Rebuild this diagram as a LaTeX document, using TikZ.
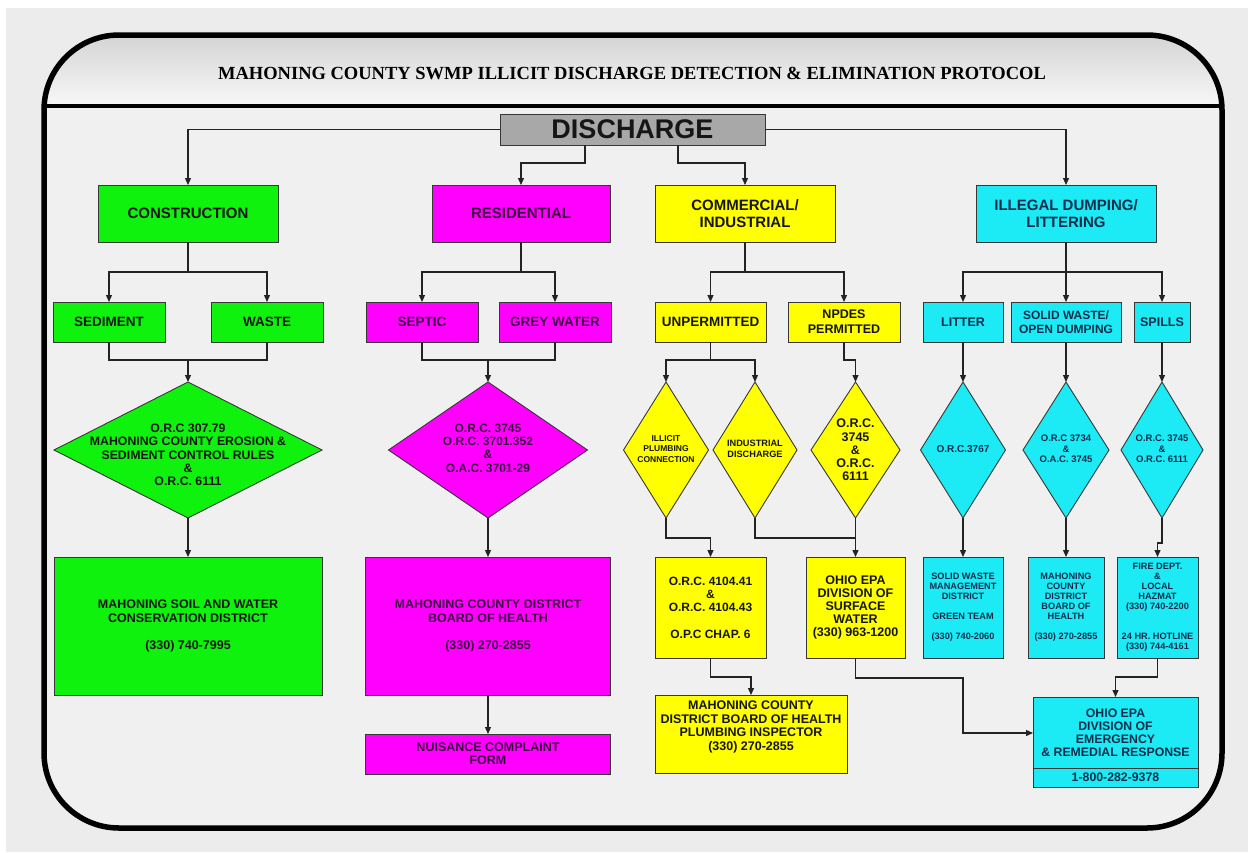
\documentclass[tikz,border=0pt]{standalone}
\usepackage{fontspec}
\setmainfont{Liberation Sans}
\newfontfamily\ttlfont{Liberation Serif}
\usetikzlibrary{arrows.meta,shapes.geometric}
\definecolor{grn}{RGB}{14,242,14}
\definecolor{mag}{RGB}{255,0,255}
\definecolor{yel}{RGB}{255,255,0}
\definecolor{cya}{RGB}{28,234,244}
\definecolor{gry}{RGB}{168,168,168}
\definecolor{bgc}{RGB}{236,236,236}
\definecolor{pnl}{RGB}{240,240,240}
\definecolor{edge}{RGB}{55,55,55}
\definecolor{linec}{RGB}{35,35,35}
\definecolor{txk}{RGB}{22,22,22}
\definecolor{txm}{RGB}{60,8,66}
\definecolor{txc}{RGB}{16,46,76}
\newcommand\myfz[2]{\fontsize{#1}{#2}\selectfont}
\tikzset{
  shp/.style={draw=edge, line width=0.9pt, inner sep=0pt, outer sep=0pt, align=center},
  fs/.style 2 args={font=\bfseries\myfz{#1}{#2}},
  gbox/.style={shp, fill=grn, text=txk},
  mbox/.style={shp, fill=mag, text=txm},
  ybox/.style={shp, fill=yel, text=txk},
  cbox/.style={shp, fill=cya, text=txc},
  dia/.style={shape=diamond, aspect=1, draw=edge, line width=0.9pt, inner sep=0pt, outer sep=0pt},
  txt/.style={align=center, inner sep=0pt},
  ln/.style={draw=linec, line width=1.2pt},
  arr/.style={ln, -{Triangle[length=7pt,width=6pt]}},
}
\begin{document}
\begin{tikzpicture}[x=1pt,y=-1pt]
\useasboundingbox (0,0) rectangle (1248,852);
% background and frame
\fill[white] (0,0) rectangle (1248,852);
\fill[bgc] (6,8) rectangle (1248,852);
\fill[pnl, rounded corners=75pt] (44,35) rectangle (1222,828);
\begin{scope}
  \clip[rounded corners=75pt] (44,35) rectangle (1222,828);
  \shade[top color={rgb,255:red,212;green,212;blue,212}, bottom color={rgb,255:red,248;green,248;blue,248}] (44,35) rectangle (1222,106);
\end{scope}
\draw[line width=4pt] (44,106) -- (1222,106);
\draw[line width=5.5pt, rounded corners=75pt] (44,35) rectangle (1222,828);

\node[txt, font=\ttlfont\bfseries\myfz{18.5}{22}, text=black] (ttl) at (632,73)
  {MAHONING COUNTY SWMP ILLICIT DISCHARGE DETECTION \& ELIMINATION PROTOCOL};

% top
\node[shp, fill=gry, text=txk, fs={27}{30}, minimum width=265pt, minimum height=31pt] (dis) at (632.5,129.5) {DISCHARGE};

% row 1
\node[gbox, fs={15}{17}, minimum width=180pt, minimum height=57pt] (con) at (188,213.5) {CONSTRUCTION};
\node[mbox, fs={15}{17}, minimum width=178pt, minimum height=57pt] (res) at (521,213.5) {RESIDENTIAL};
\node[ybox, fs={15}{17}, minimum width=180pt, minimum height=57pt] (com) at (745,213.5) {COMMERCIAL/\\INDUSTRIAL};
\node[cbox, fs={15}{17}, minimum width=180pt, minimum height=57pt] (ill) at (1066,213.5) {ILLEGAL DUMPING/\\LITTERING};

% row 2
\node[gbox, fs={13.5}{16}, minimum width=112pt, minimum height=40pt] (sed) at (109,322) {SEDIMENT};
\node[gbox, fs={13.5}{16}, minimum width=112pt, minimum height=40pt] (was) at (267,322) {WASTE};
\node[mbox, fs={13.5}{16}, minimum width=112pt, minimum height=40pt] (sep) at (422,322) {SEPTIC};
\node[mbox, fs={13.5}{16}, minimum width=112pt, minimum height=40pt] (grw) at (555,322) {GREY WATER};
\node[ybox, fs={13.5}{16}, minimum width=111pt, minimum height=40pt] (unp) at (710.5,322) {UNPERMITTED};
\node[ybox, fs={12.5}{15}, minimum width=112pt, minimum height=40pt] (npd) at (844,322) {NPDES\\PERMITTED};
\node[cbox, fs={12.5}{15}, minimum width=80pt, minimum height=40pt] (lit) at (963,322) {LITTER};
\node[cbox, fs={12}{14.5}, minimum width=110pt, minimum height=40pt] (sol) at (1066,322) {SOLID WASTE/\\OPEN DUMPING};
\node[cbox, fs={12.5}{15}, minimum width=56pt, minimum height=40pt] (spi) at (1162,322) {SPILLS};

% diamonds
\node[dia, fill=grn, minimum width=268pt, minimum height=136pt] (d1) at (188,450) {};
\node[txt, fs={12.3}{13.3}, text=txk] (d1t) at (188,455) {O.R.C 307.79\\MAHONING COUNTY EROSION \&\\SEDIMENT CONTROL RULES\\\&\\O.R.C. 6111};
\node[dia, fill=mag, minimum width=199pt, minimum height=136pt] (d2) at (488,450) {};
\node[txt, fs={12}{13.3}, text=txm] (d2t) at (488,448) {O.R.C. 3745\\O.R.C. 3701.352\\\&\\O.A.C. 3701-29};
\node[dia, fill=yel, minimum width=85pt, minimum height=136pt] (d3) at (666,450) {};
\node[txt, fs={8.5}{10.5}, text=txk] (d3t) at (666,449) {ILLICIT\\PLUMBING\\CONNECTION};
\node[dia, fill=yel, minimum width=84pt, minimum height=136pt] (d4) at (755,450) {};
\node[txt, fs={9.2}{11}, text=txk] (d4t) at (755,448.5) {INDUSTRIAL\\DISCHARGE};
\node[dia, fill=yel, minimum width=89pt, minimum height=136pt] (d5) at (855.5,450) {};
\node[txt, fs={12.5}{13.3}, text=txk] (d5t) at (855.5,450) {O.R.C.\\3745\\\&\\O.R.C.\\6111};
\node[dia, fill=cya, minimum width=85pt, minimum height=136pt] (d6) at (963,450) {};
\node[txt, fs={10}{11}, text=txc] (d6t) at (963,449) {O.R.C.3767};
\node[dia, fill=cya, minimum width=86pt, minimum height=136pt] (d7) at (1066,450) {};
\node[txt, fs={9.5}{10.5}, text=txc] (d7t) at (1066,449) {O.R.C 3734\\\&\\O.A.C. 3745};
\node[dia, fill=cya, minimum width=82pt, minimum height=136pt] (d8) at (1162,450) {};
\node[txt, fs={9.5}{10.5}, text=txc] (d8t) at (1162,449) {O.R.C. 3745\\\&\\O.R.C. 6111};

% bottom boxes
\node[gbox, fs={12.5}{13.4}, minimum width=268pt, minimum height=138pt] (gbig) at (188,626)
  {MAHONING SOIL AND WATER\\CONSERVATION DISTRICT\\[13.4pt](330) 740-7995};
\node[mbox, fs={12.5}{13.4}, minimum width=245pt, minimum height=138pt] (mbig) at (488,626)
  {MAHONING COUNTY DISTRICT\\BOARD OF HEALTH\\[13.4pt](330) 270-2855};
\node[mbox, fs={12.5}{13}, minimum width=245pt, minimum height=40pt] (nui) at (488,754)
  {NUISANCE COMPLAINT\\FORM};
\node[ybox, fs={12}{13.2}, minimum width=111pt, minimum height=101pt] (orc) at (710.5,607.5)
  {O.R.C. 4104.41\\\&\\O.R.C. 4104.43\\[13.2pt]O.P.C CHAP. 6};
\node[ybox, fs={12.5}{13.2}, minimum width=99pt, minimum height=101pt] (sw) at (855.5,607.5)
  {OHIO EPA\\DIVISION OF\\SURFACE\\WATER\\(330) 963-1200};
\node[ybox, minimum width=192pt, minimum height=78pt] (plu) at (751,734) {};
\node[txt, fs={12.5}{13.6}, text=txk] (plut) at (751,727)
  {MAHONING COUNTY\\DISTRICT BOARD OF HEALTH\\PLUMBING INSPECTOR\\(330) 270-2855};
\node[cbox, fs={9.2}{10}, minimum width=80pt, minimum height=101pt] (swm) at (963,607.5)
  {SOLID WASTE\\MANAGEMENT\\DISTRICT\\[10pt]GREEN TEAM\\[10pt](330) 740-2060};
\node[cbox, fs={9.2}{10}, minimum width=76pt, minimum height=101pt] (mcb) at (1066,607.5)
  {MAHONING\\COUNTY\\DISTRICT\\BOARD OF\\HEALTH\\[10pt](330) 270-2855};
\node[cbox, fs={9.2}{10}, minimum width=81pt, minimum height=101pt] (fir) at (1157.5,607.5)
  {FIRE DEPT.\\\&\\LOCAL\\HAZMAT\\(330) 740-2200\\[20pt]24 HR. HOTLINE\\(330) 744-4161};
\node[cbox, minimum width=165pt, minimum height=90pt] (epa) at (1115.5,742) {};
\draw[draw=edge, line width=0.9pt] ([yshift=19pt]epa.south west) -- ([yshift=19pt]epa.south east);
\node[txt, fs={12.3}{13}, text=txc] (epat) at (1115.5,732.5)
  {OHIO EPA\\DIVISION OF\\EMERGENCY\\\& REMEDIAL RESPONSE};
\node[txt, fs={12.3}{13}, text=txc] (epap) at (1115.5,777.5) {1-800-282-9378};

% connectors from DISCHARGE
\draw[arr] (dis.west) -| (con.north);
\draw[arr] (dis.east) -| (ill.north);
\draw[arr] ([xshift=-47.5pt]dis.south) -- ++(0,18) -| (res.north);
\draw[arr] ([xshift=45.5pt]dis.south) -- ++(0,18) -| (com.north);

% branches to row 2
\draw[ln] (con.south) -- ++(0,30) coordinate (cb);
\draw[arr] (cb) -| (sed.north);
\draw[arr] (cb) -| (was.north);
\draw[ln] (res.south) -- ++(0,30) coordinate (rb);
\draw[arr] (rb) -| (sep.north);
\draw[arr] (rb) -| (grw.north);
\draw[ln] (com.south) -- ++(0,30) coordinate (kb);
\draw[arr] (kb) -| (unp.north);
\draw[arr] (kb) -| (npd.north);
\draw[ln] (ill.south) -- ++(0,30) coordinate (ib);
\draw[arr] (ib) -| (lit.north);
\draw[arr] (ib) -- (sol.north);
\draw[arr] (ib) -| (spi.north);

% merges into diamonds
\draw[ln] (sed.south) -- ++(0,18) coordinate (sm) -| (was.south);
\draw[arr] (sm -| d1.north) -- (d1.north);
\draw[ln] (sep.south) -- ++(0,18) coordinate (pm) -| (grw.south);
\draw[arr] (pm -| d2.north) -- (d2.north);
\draw[ln] (unp.south) -- ++(0,18) coordinate (um);
\draw[arr] (um) -| (d3.north);
\draw[arr] (um) -| (d4.north);
\draw[arr] (npd.south) -- ++(0,18) -| (d5.north);
\draw[arr] (lit.south) -- (d6.north);
\draw[arr] (sol.south) -- (d7.north);
\draw[arr] (spi.south) -- (d8.north);

% diamonds to bottom boxes
\draw[arr] (d1.south) -- (gbig.north);
\draw[arr] (d2.south) -- (mbig.north);
\draw[arr] (mbig.south) -- (nui.north);
\draw[arr] (d3.south) -- ++(0,20) -| (orc.north);
\draw[ln] (d4.south) -- ++(0,20) -| (d5.south);
\draw[arr] (d5.south) -- (sw.north);
\draw[arr] (d6.south) -- (swm.north);
\draw[arr] (d7.south) -- (mcb.north);
\draw[arr] (d8.south) -- ++(0,25) -| (fir.north);

% lower connectors
\draw[arr] (orc.south) -- ++(0,19) -| (plu.north);
\draw[arr] (sw.south) |- ++(107.5,20) |- ([yshift=9pt]epa.west);
\draw[arr] (fir.south) -- ++(0,19) -| (epa.north);
\end{tikzpicture}
\end{document}
